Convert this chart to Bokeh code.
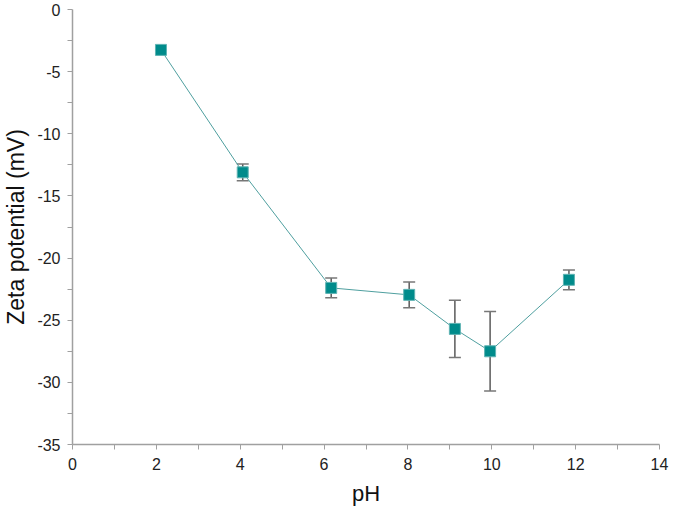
from bokeh.plotting import figure
from bokeh.models import ColumnDataSource, Range1d, FixedTicker, Whisker, TeeHead, CustomJSTickFormatter
from bokeh.embed import file_html
from bokeh.resources import INLINE

ph = [2.11, 4.06, 6.17, 8.03, 9.12, 9.96, 11.84]
zeta = [-3.25, -13.1, -22.4, -22.96, -25.7, -27.5, -21.75]
err = [0.0, 0.67, 0.8, 1.03, 2.3, 3.2, 0.8]

x_ticks = [0, 2, 4, 6, 8, 10, 12, 14]
x_minor = [1, 3, 5, 7, 9, 11, 13]
y_ticks = [0, -5, -10, -15, -20, -25, -30, -35]
y_minor = [-2.5, -7.5, -12.5, -17.5, -22.5, -27.5, -32.5]

src = ColumnDataSource(dict(
    x=ph, y=zeta,
    upper=[v + e for v, e in zip(zeta, err)],
    lower=[v - e for v, e in zip(zeta, err)],
))

p = figure(width=669, height=510, output_backend="svg", toolbar_location=None,
           x_range=Range1d(0, 14), y_range=Range1d(-35, 0),
           min_border_left=64, min_border_right=10, min_border_top=9, min_border_bottom=66)
p.outline_line_color = None
p.grid.visible = False

font = "Liberation Sans"
fmt = CustomJSTickFormatter(code="return String(tick);")
for ax in (p.xaxis[0], p.yaxis[0]):
    ax.axis_line_color = "#a0a0a0"
    ax.axis_line_width = 1.5
    ax.major_tick_line_color = "#a0a0a0"
    ax.minor_tick_line_color = "#a0a0a0"
    ax.major_tick_in = 0
    ax.major_tick_out = 5
    ax.minor_tick_in = 0
    ax.minor_tick_out = 5
    ax.major_label_text_font = font
    ax.major_label_text_font_size = "16px"
    ax.major_label_text_color = "#222222"
    ax.axis_label_text_font = font
    ax.axis_label_text_font_style = "normal"
    ax.axis_label_text_color = "#111111"
    ax.formatter = fmt

p.xaxis.ticker = FixedTicker(ticks=x_ticks, minor_ticks=x_minor)
p.yaxis.ticker = FixedTicker(ticks=y_ticks, minor_ticks=y_minor)
p.xaxis.axis_label = "pH"
p.yaxis.axis_label = "Zeta potential (mV)"
p.xaxis.axis_label_text_font_size = "22px"
p.yaxis.axis_label_text_font_size = "23px"
p.xaxis.major_label_standoff = 8
p.xaxis.axis_label_standoff = 8
p.yaxis.major_label_standoff = 7
p.yaxis.axis_label_standoff = 5

wh = Whisker(source=src, base="x", upper="upper", lower="lower",
             line_color="#5a5a5a", line_width=1.5,
             upper_head=TeeHead(size=12, line_color="#777777", line_width=1.5),
             lower_head=TeeHead(size=12, line_color="#777777", line_width=1.5))
p.add_layout(wh)

p.line("x", "y", source=src, line_color="#4f9f9f", line_width=1)
p.scatter("x", "y", source=src, marker="square", size=11,
          fill_color="#008b8b", line_color="#5fb3b3", line_width=1)

open("out.html", "w").write(file_html(p, INLINE))
